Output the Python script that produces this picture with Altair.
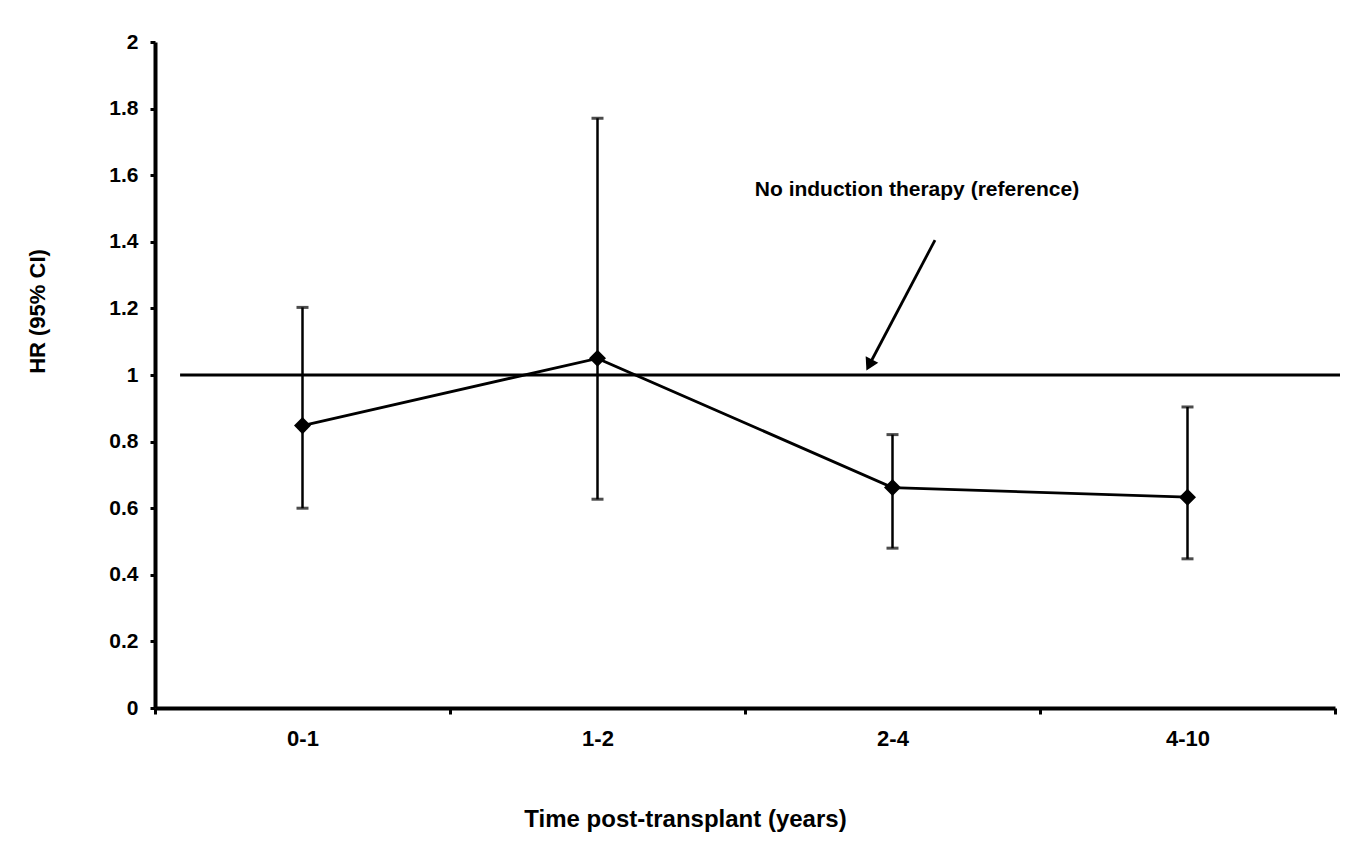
import altair as alt
import pandas as pd

# ---- data ----
categories = ["0-1", "1-2", "2-4", "4-10"]
hr = [0.848, 1.05, 0.662, 0.633]
ci_lower = [0.60, 0.627, 0.48, 0.448]
ci_upper = [1.203, 1.771, 0.821, 0.904]
y_ticks = [0, 0.2, 0.4, 0.6, 0.8, 1.0, 1.2, 1.4, 1.6, 1.8, 2.0]

reference_hr = 1.0
reference_span = [0.085, 4.017]          # in category-band units
annotation_text = "No induction therapy (reference)"
annotation_x = [2.583]
annotation_y = [1.556]
arrow_x = [2.644, 2.421]
arrow_y = [1.405, 1.03]

FONT = "Liberation Sans"
W, H = 1180, 666

df = pd.DataFrame({"cat": categories, "hr": hr, "lo": ci_lower, "hi": ci_upper})
ref_df = pd.DataFrame({"x": [reference_span[0]], "x2": [reference_span[1]], "y": [reference_hr]})
txt_df = pd.DataFrame({"x": annotation_x, "y": annotation_y, "t": [annotation_text]})
arrow_df = pd.DataFrame({"x": [arrow_x[0]], "x2": [arrow_x[1]], "y": [arrow_y[0]], "y2": [arrow_y[1]]})
head_df = pd.DataFrame({"x": [arrow_x[1]], "y": [arrow_y[1]]})

yscale = alt.Scale(domain=[0, 2], nice=False, zero=True)
xband = alt.Scale(type="band", domain=categories, paddingInner=0, paddingOuter=0)
xq = alt.Scale(domain=[0, 4], nice=False, zero=False)

x_enc = alt.X(
    "cat:N", scale=xband, sort=categories,
    axis=alt.Axis(
        title="Time post-transplant (years)", tickBand="extent", labelAngle=0,
        labelFont=FONT, labelFontSize=22, labelFontWeight="bold", labelColor="black",
        labelPadding=14, tickSize=6, tickWidth=3, tickColor="black",
        domainWidth=4, domainColor="black",
        titleFont=FONT, titleFontSize=24, titleFontWeight="bold", titleColor="black",
        titleX=530, titleY=111, titleBaseline="middle", titleAnchor="start", titleAlign="center",
        grid=False,
    ),
)
y_enc = alt.Y(
    "hr:Q", scale=yscale,
    axis=alt.Axis(
        title="HR (95% CI)", values=y_ticks, format=".1~f",
        labelFont=FONT, labelFontSize=21, labelFontWeight="bold", labelColor="black",
        labelPadding=12, tickSize=5, tickWidth=3, tickColor="black",
        domainWidth=4, domainColor="black",
        titleFont=FONT, titleFontSize=22, titleFontWeight="bold", titleColor="black",
        titleAngle=270, titleX=-118, titleY=269, titleBaseline="middle", titleAlign="center",
        grid=False,
    ),
)

bars = alt.Chart(df).mark_rule(color="black", strokeWidth=2.5).encode(
    x=x_enc, y=alt.Y("lo:Q", scale=yscale), y2="hi:Q"
)
caps_hi = alt.Chart(df).mark_tick(color="black", size=12, thickness=3).encode(
    x=alt.X("cat:N", scale=xband, sort=categories), y=alt.Y("hi:Q", scale=yscale)
)
caps_lo = alt.Chart(df).mark_tick(color="black", size=12, thickness=3).encode(
    x=alt.X("cat:N", scale=xband, sort=categories), y=alt.Y("lo:Q", scale=yscale)
)
line = alt.Chart(df).mark_line(color="black", strokeWidth=2.8).encode(
    x=alt.X("cat:N", scale=xband, sort=categories), y=y_enc
)
pts = alt.Chart(df).mark_point(shape="diamond", filled=True, color="black", size=290, opacity=1).encode(
    x=alt.X("cat:N", scale=xband, sort=categories), y=alt.Y("hr:Q", scale=yscale)
)
data_layer = alt.layer(bars, caps_hi, caps_lo, line, pts)

ref = alt.Chart(ref_df).mark_rule(color="black", strokeWidth=2.8).encode(
    x=alt.X("x:Q", scale=xq, axis=None), x2="x2:Q", y=alt.Y("y:Q", scale=yscale)
)
arrow = alt.Chart(arrow_df).mark_rule(color="black", strokeWidth=2.8).encode(
    x=alt.X("x:Q", scale=xq, axis=None), x2="x2:Q", y=alt.Y("y:Q", scale=yscale), y2="y2:Q"
)
head = alt.Chart(head_df).mark_point(shape="triangle-up", filled=True, color="black",
                                     size=200, angle=207, opacity=1).encode(
    x=alt.X("x:Q", scale=xq, axis=None), y=alt.Y("y:Q", scale=yscale)
)
txt = alt.Chart(txt_df).mark_text(font=FONT, fontSize=21, fontWeight="bold", color="black",
                                  align="center", baseline="middle").encode(
    x=alt.X("x:Q", scale=xq, axis=None), y=alt.Y("y:Q", scale=yscale), text="t:N"
)
annot_layer = alt.layer(ref, arrow, head, txt)

chart = alt.layer(annot_layer, data_layer).resolve_scale(x="independent").properties(
    width=W, height=H,
    autosize=alt.AutoSizeParams(type="none"),
    padding={"left": 147, "top": 34, "right": 5, "bottom": 127},
    background="white",
).configure_view(stroke=None)

chart.save("out.html", embed_options={"renderer": "svg", "actions": False})
